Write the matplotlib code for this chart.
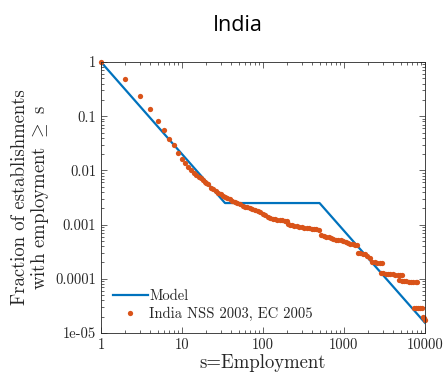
import numpy as np
import matplotlib
matplotlib.use("Agg")
import matplotlib.pyplot as plt
from matplotlib.ticker import FixedLocator, FixedFormatter, LogLocator, NullFormatter

plt.rcParams['mathtext.fontset'] = 'cm'
plt.rcParams['axes.formatter.use_mathtext'] = True

# Empirical fraction of establishments with employment >= s
sizes = [1, 2, 3, 4, 5, 6, 7, 8, 9, 10, 11, 12, 13, 14, 15, 16, 17, 18, 19,
         20, 21, 23, 24, 26, 28, 30, 32, 34, 36, 39, 42, 45, 48, 52, 56, 60, 64, 69, 74, 80, 86, 93, 100,
         107, 115, 123, 132, 141, 151, 162, 174, 186, 196, 204, 214, 229, 245, 263, 282, 302, 324,
         347, 372, 398, 427, 457, 490,
         525, 562, 603, 646, 692, 741, 794, 851, 912, 977, 1047, 1122, 1202, 1288, 1380, 1450,
         1480, 1580, 1700, 1820, 1950, 2090, 2240, 2400, 2570, 2750, 2950,
         2850, 3050, 3270, 3500, 3750, 4020, 4300, 4600, 4930, 5200,
         4800, 5150, 5500, 5900, 6300, 6750, 7200, 7700, 7950,
         7300, 7800, 8300, 8800, 9200, 9500, 9750, 10000]
fractions = [1.0, 0.49, 0.24, 0.138, 0.081, 0.055, 0.038, 0.029, 0.021, 0.016, 0.0135, 0.0117, 0.0100,
             0.0091, 0.0083, 0.0076, 0.0071, 0.0066, 0.0062,
             0.00589, 0.00550, 0.00473, 0.00447, 0.00417, 0.00389, 0.00363, 0.00339, 0.00324, 0.00309,
             0.00292, 0.00275, 0.00263, 0.00251, 0.00237, 0.00224, 0.00214, 0.00207, 0.00200, 0.00193,
             0.00186, 0.00178, 0.00168, 0.00158,
             0.00148, 0.00136, 0.00132, 0.00129, 0.00126, 0.00123, 0.00122, 0.00120, 0.00117, 0.00116,
             0.00102, 0.00100, 0.000966, 0.000944, 0.000923, 0.000912, 0.000891, 0.000881,
             0.000861, 0.000851, 0.000832, 0.000822, 0.000813, 0.000794,
             0.000631, 0.000610, 0.000596, 0.000582, 0.000569, 0.000550, 0.000531, 0.000525,
             0.000513, 0.000501, 0.000479, 0.000457, 0.000447, 0.000437, 0.000427, 0.000417,
             0.000302, 0.000299, 0.000292, 0.000288, 0.000263, 0.000240, 0.000204, 0.000200,
             0.000197, 0.000197, 0.000195,
             0.000126, 0.000126, 0.000124, 0.000123, 0.000123, 0.000122, 0.000120, 0.000120,
             0.000119, 0.000117,
             9.33e-5, 9.23e-5, 9.12e-5, 9.02e-5, 8.91e-5, 8.91e-5, 8.81e-5, 8.71e-5, 8.71e-5,
             2.95e-5, 2.95e-5, 2.92e-5, 2.88e-5, 2.88e-5, 2.0e-5, 1.86e-5, 1.74e-5]

# Model: power law, flat segment, power law
model_s = [1, 34, 500, 10000]
model_frac = [1.0, 0.0025, 0.0025, 1.55e-5]

xticks = [1, 10, 100, 1000, 10000]
xtick_labels = ['1', '10', '100', '1000', '10000']
yticks = [1e-5, 1e-4, 1e-3, 1e-2, 1e-1, 1]
ytick_labels = ['1e-05', '0.0001', '0.001', '0.01', '0.1', '1']

blue = '#0072BD'
orange = '#D95319'
axcol = '#262626'

fig = plt.figure(figsize=(4.44, 3.77), dpi=100)
ax = fig.add_axes([0.2275, 0.1167, 0.7295, 0.7188])

ax.plot(model_s, model_frac, color=blue, lw=1.6, label='Model')
ax.plot(sizes, fractions, 'o', color=orange, ms=3.8, mec='none', clip_on=False,
        label='India NSS 2003, EC 2005')

ax.set_xscale('log')
ax.set_yscale('log')
ax.set_xlim(1, 10000)
ax.set_ylim(1e-5, 1)

ax.xaxis.set_major_locator(FixedLocator(xticks))
ax.xaxis.set_major_formatter(FixedFormatter(xtick_labels))
ax.yaxis.set_major_locator(FixedLocator(yticks))
ax.yaxis.set_major_formatter(FixedFormatter(ytick_labels))
ax.xaxis.set_minor_locator(LogLocator(base=10, subs=np.arange(2, 10), numticks=20))
ax.yaxis.set_minor_locator(LogLocator(base=10, subs=np.arange(2, 10), numticks=20))
ax.xaxis.set_minor_formatter(NullFormatter())
ax.yaxis.set_minor_formatter(NullFormatter())

ax.tick_params(which='both', direction='in', top=True, right=True, colors=axcol,
               labelcolor=axcol, width=0.5)
ax.tick_params(which='major', length=4, labelsize=10.5)
ax.tick_params(which='minor', length=2)
for lab in ax.get_xticklabels() + ax.get_yticklabels():
    lab.set_fontfamily('cmr10')
for sp in ax.spines.values():
    sp.set_color(axcol)
    sp.set_linewidth(0.6)

ax.set_xlabel('s=Employment', fontsize=13.5, fontfamily='cmr10', color=axcol, labelpad=2)
ax.set_ylabel('Fraction of establishments\nwith employment $\\geq$ s', fontsize=13.5,
              fontfamily='cmr10', color=axcol, labelpad=3, linespacing=1.0)

leg = ax.legend(loc='lower left', frameon=False, prop={'family': 'cmr10', 'size': 10.5},
                handlelength=2.4, handletextpad=0.1, borderaxespad=0.4, labelspacing=0.3)
for t in leg.get_texts():
    t.set_color(axcol)

fig.text(0.536, 0.96, 'India', ha='center', va='top', fontsize=15.5, color='black',
         fontfamily='Open Sans')

fig.savefig('out.png', dpi=100)
